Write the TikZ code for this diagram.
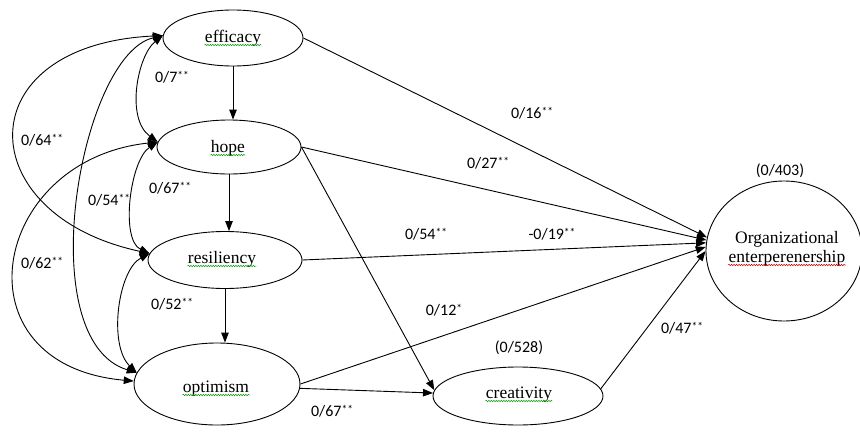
\documentclass[tikz,border=0pt]{standalone}
\usepackage{fontspec}
\setmainfont{Liberation Serif}
\newfontfamily\labfont{Carlito}
\usetikzlibrary{arrows.meta,shapes.geometric,decorations.pathmorphing}
\newcommand\sigmark[1]{\raisebox{3pt}{\fontsize{11.5}{11.5}\selectfont #1}}
\begin{document}
\begin{tikzpicture}[x=1pt,y=-1pt,
  line width=0.9pt,
  var/.style={draw, ellipse, inner sep=0pt},
  vtext/.style={font=\fontsize{17.5}{19.5}\selectfont, inner sep=0pt, anchor=base},
  lbl/.style={font=\labfont\fontsize{16}{18}\selectfont, inner sep=0pt, anchor=base},
  arr/.style={-{Triangle[length=10pt,width=7.5pt]}},
  darr/.style={{Triangle[length=10pt,width=7.5pt]}-{Triangle[length=10pt,width=7.5pt]}},
  gwave/.style={draw=green!60!black, line width=0.5pt, decorate, decoration={snake, amplitude=0.7pt, segment length=2.5pt}},
  rwave/.style={draw=red!80!black, line width=0.5pt, decorate, decoration={snake, amplitude=0.7pt, segment length=2.5pt}}
]
\useasboundingbox (0,0) rectangle (860,434);

% latent variable ellipses
\node[var, minimum width=140pt, minimum height=56pt] (eff) at (233,38) {};
\node[var, minimum width=144pt, minimum height=54pt] (hope) at (229,147) {};
\node[var, minimum width=154pt, minimum height=57pt] (res) at (225,260) {};
\node[var, minimum width=166pt, minimum height=82pt] (opt) at (217,384) {};
\node[var, minimum width=170pt, minimum height=58pt] (cre) at (518,396) {};
\node[var, minimum width=156pt, minimum height=140pt] (org) at (784,251) {};

% texts
\node[vtext] (efft) at (233,42) {efficacy};
\node[vtext] (hopet) at (228,152) {hope};
\node[vtext] (rest) at (222,263) {resiliency};
\node[vtext] (optt) at (216,392) {optimism};
\node[vtext] (cret) at (519,398) {creativity};
\node[vtext] (orgta) at (787,243) {Organizational};
\node[vtext] (orgtb) at (787,262) {enterperenership};

% spell-check underlines
\draw[gwave] ([yshift=-3pt]efft.base west) -- ([yshift=-3pt]efft.base east);
\draw[gwave] ([yshift=-3pt]hopet.base west) -- ([yshift=-3pt]hopet.base east);
\draw[gwave] ([yshift=-3pt]rest.base west) -- ([yshift=-3pt]rest.base east);
\draw[gwave] ([yshift=-3pt]optt.base west) -- ([yshift=-3pt]optt.base east);
\draw[gwave] ([yshift=-3pt]cret.base west) -- ([yshift=-3pt]cret.base east);
\draw[rwave] ([yshift=-3pt]orgtb.base west) -- ([yshift=-3pt]orgtb.base east);

% straight paths
\draw[arr] (eff.south) -- (eff.south |- hope.north);
\draw[arr] (hope.south) -- (hope.south |- res.north);
\draw[arr] (res.south) -- (res.south |- opt.north);
\draw[arr] (eff.east) -- (org.170);
\draw[arr] (hope.east) -- (org.172);
\draw[arr] (res.east) -- (org.174);
\draw[arr] (opt.east) -- (org.177);
\draw[arr] (cre.5) -- (org.180);
\draw[arr] (hope.east) -- (cre.176);
\draw[arr] (opt.-3) -- (cre.178);

% correlations
\draw[darr] (eff.178) .. controls (138,55) and (125,118) .. (hope.176);
\draw[darr] (eff.178) .. controls (-34,45) and (-30,215) .. (res.175);
\draw[darr] (eff.178) .. controls (80,55) and (30,340) .. (opt.172);
\draw[darr] (hope.176) .. controls (-10,160) and (-46,365) .. (opt.178);
\draw[darr] (hope.176) .. controls (130,160) and (120,240) .. (res.175);
\draw[darr] (res.175) .. controls (118,270) and (108,345) .. (opt.172);

% labels
\node[lbl] (l1) at (172,82) {0/7\sigmark{**}};
\node[lbl] (l2) at (42,145) {0/64\sigmark{**}};
\node[lbl] (l3) at (170,193) {0/67\sigmark{**}};
\node[lbl] (l4) at (109,205) {0/54\sigmark{**}};
\node[lbl] (l5) at (42,268) {0/62\sigmark{**}};
\node[lbl] (l6) at (172,309) {0/52\sigmark{**}};
\node[lbl] (l7) at (532,118) {0/16\sigmark{**}};
\node[lbl] (l8) at (488,168) {0/27\sigmark{**}};
\node[lbl] (l9) at (426,239) {0/54\sigmark{**}};
\node[lbl] (l10) at (552,239) {-0/19\sigmark{**}};
\node[lbl] (l11) at (444,315) {0/12\sigmark{*}};
\node[lbl] (l12) at (519,352) {(0/528)};
\node[lbl] (l13) at (682,333) {0/47\sigmark{**}};
\node[lbl] (l14) at (780,175) {(0/403)};
\node[lbl] (l15) at (332,416) {0/67\sigmark{**}};
\end{tikzpicture}
\end{document}
